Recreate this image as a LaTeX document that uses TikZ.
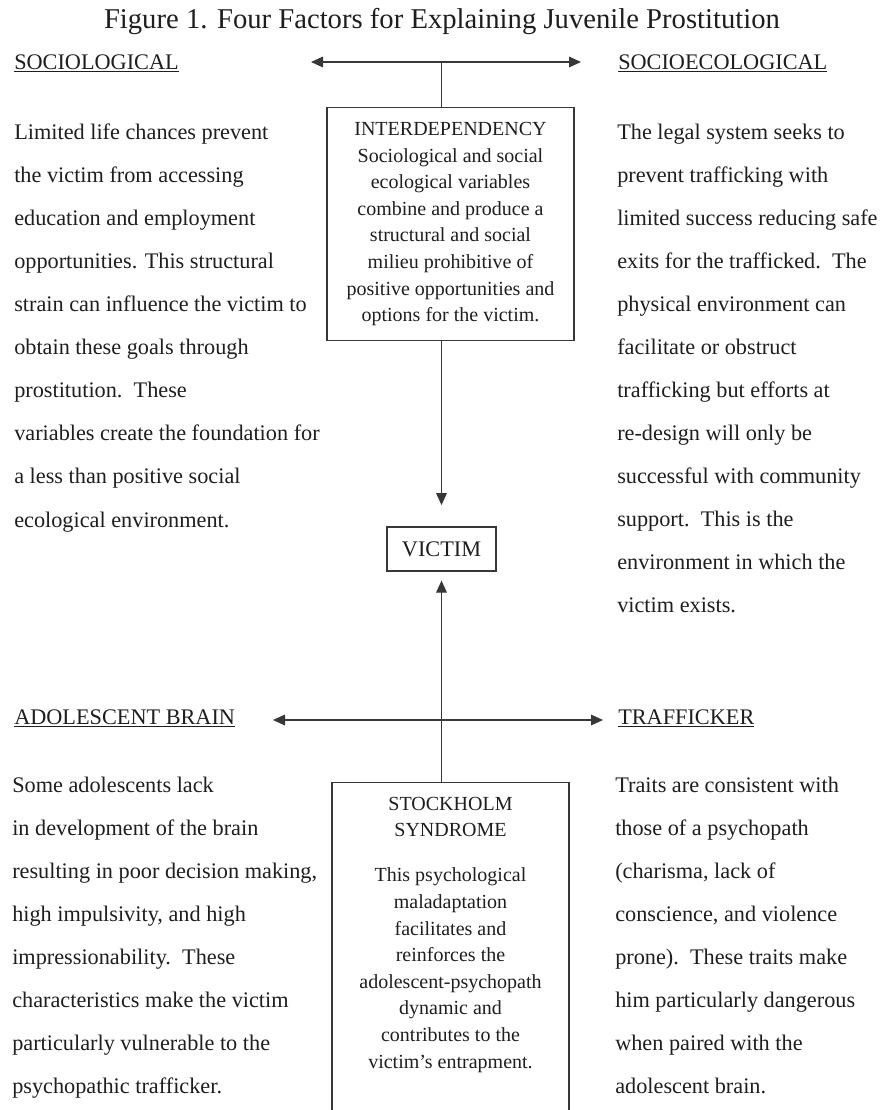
\documentclass[tikz,border=0pt]{standalone}
\usepackage{fontspec}
\setmainfont{Liberation Serif}
\usetikzlibrary{positioning,arrows.meta}
\definecolor{InkGray}{RGB}{30,30,30}
\definecolor{RuleGray}{RGB}{55,55,55}
\tikzset{
  heading/.style={anchor=base west,inner sep=0pt,text=InkGray,font=\fontsize{16.7}{20}\selectfont},
  blurb/.style={anchor=north west,inner sep=0pt,align=left,text=InkGray,font=\fontsize{16.7}{32.3}\selectfont},
  factor/.style={draw=RuleGray,line width=0.9pt,inner sep=2pt,align=center,text=InkGray,font=\fontsize{15}{19.95}\selectfont},
  link/.style={draw=RuleGray,line width=0.9pt},
}
\tikzset{oneway/.style={-{Triangle[length=9pt,width=8pt]}}, twoway/.style={{Triangle[length=9pt,width=8pt]}-{Triangle[length=9pt,width=8pt]}}}

\begin{document}
\begin{tikzpicture}[x=0.75pt,y=-0.75pt]
\useasboundingbox (0,0) rectangle (880,1110);
\clip (0,0) rectangle (880,1110);
\node[font=\fontsize{21.5}{25}\selectfont,text=InkGray] (title) at (442,22) {Figure 1. Four Factors for Explaining Juvenile Prostitution};
% centre column
\node[factor,minimum width=185.25pt,minimum height=174.75pt,anchor=north] (interdep) at (450.5,107) {INTERDEPENDENCY\\ Sociological and social\\ ecological variables\\ combine and produce a\\ structural and social\\ milieu prohibitive of\\ positive opportunities and\\ options for the victim.};
\node[factor,font=\fontsize{16.7}{20}\selectfont,minimum width=81.75pt,minimum height=33pt] (victim) at (441.5,549) {VICTIM};
\node[factor,minimum width=177.75pt,minimum height=255pt,anchor=north] (stockholm) at (450.5,782) {};
\node[factor,draw=none,inner sep=0pt,anchor=north] (stockholmtext) at (450.5,796.5) {STOCKHOLM\\ SYNDROME\\[13.8pt] This psychological\\ maladaptation\\ facilitates and\\ reinforces the\\ adolescent-psychopath\\ dynamic and\\ contributes to the\\ victim’s entrapment.};
% four factors
\node[heading] (sociol) at (14,69.4) {\underline{SOCIOLOGICAL}};
\node[heading] (socioeco) at (618,69.4) {\underline{SOCIOECOLOGICAL}};
\node[heading] (brain) at (14,724.5) {\underline{ADOLESCENT BRAIN}};
\node[heading] (trafficker) at (618,724.5) {\underline{TRAFFICKER}};
\node[blurb] (sociolText) at (14,123.5) {Limited life chances prevent\\ the victim from accessing\\ education and employment\\ opportunities. This structural\\ strain can influence the victim to\\ obtain these goals through\\ prostitution.\ \ These\\ variables create the foundation for\\ a less than positive social\\ ecological environment.};
\node[blurb] (socioecoText) at (617,123.5) {The legal system seeks to\\ prevent trafficking with\\ limited success reducing safe\\ exits for the trafficked.\ \ The\\ physical environment can\\ facilitate or obstruct\\ trafficking but efforts at\\ re-design will only be\\ successful with community\\ support.\ \ This is the\\ environment in which the\\ victim exists.};
\node[blurb] (brainText) at (12,776.3) {Some adolescents lack\\ in development of the brain\\ resulting in poor decision making,\\ high impulsivity, and high\\ impressionability.\ \ These\\ characteristics make the victim\\ particularly vulnerable to the\\ psychopathic trafficker.};
\node[blurb] (traffickerText) at (615,776.3) {Traits are consistent with\\ those of a psychopath\\ (charisma, lack of\\ conscience, and violence\\ prone).\ \ These traits make\\ him particularly dangerous\\ when paired with the\\ adolescent brain.};
% connectors
\coordinate (topL) at (311,62);
\coordinate (topR) at (581,62);
\coordinate (botL) at (273,720);
\coordinate (botR) at (603,720);
\draw[link,twoway] (topL) -- (topR);
\draw[link] (topL -| victim) -- (interdep.north -| victim);
\draw[link,oneway,shorten >=16pt] (interdep.south -| victim) -- (victim.north);
\draw[link,twoway] (botL) -- (botR);
\draw[link,oneway,shorten >=6.75pt] (stockholm.north -| victim) -- (victim.south);
\end{tikzpicture}
\end{document}
